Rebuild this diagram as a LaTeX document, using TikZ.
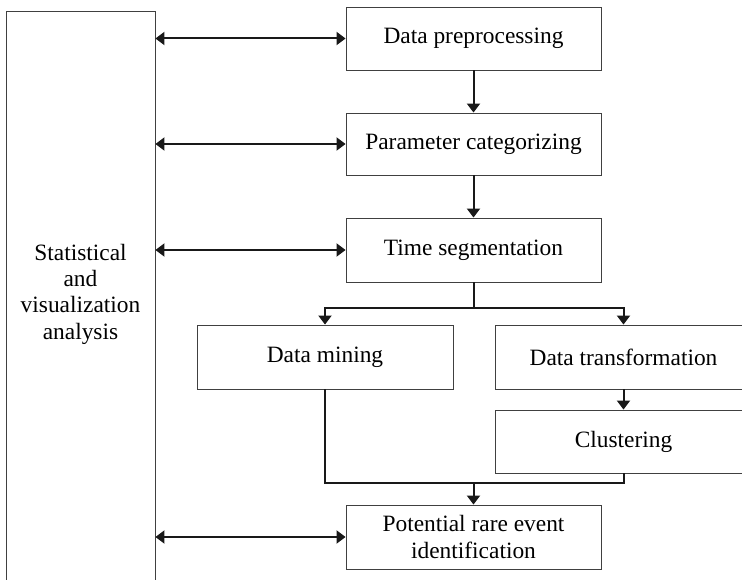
\documentclass[tikz,border=0pt]{standalone}
\usepackage{fontspec}
\setmainfont{Liberation Serif}
\usetikzlibrary{arrows.meta,calc}
\begin{document}
\begin{tikzpicture}[x=1pt,y=-1pt,
  box/.style={draw=black!75, line width=0.9pt, rectangle, inner sep=0pt, align=center,
    font=\fontsize{23.4}{26.5}\selectfont},
  lbl/.style={align=center, inner sep=0pt, font=\fontsize{23.4}{26.3}\selectfont},
  tip/.tip={Triangle[width=13pt,length=9pt]},
  conn/.style={draw=black!90, line width=2pt, -tip},
  both/.style={draw=black!90, line width=2pt, tip-tip},
  line/.style={draw=black!90, line width=2pt}]
\useasboundingbox (0,0) rectangle (742,580);
\clip (0,0) rectangle (742,580);
\node[box, minimum width=149pt, minimum height=620pt] (stat) at (80.5,321) {};
\node[lbl] (statlbl) at (80.5,294) {Statistical\\and\\visualization\\analysis};
\node[box, minimum width=255pt, minimum height=63pt] (pre) at (473.5,38.5) {Data preprocessing};
\node[box, minimum width=255pt, minimum height=62pt] (par) at (473.5,144) {Parameter categorizing};
\node[box, minimum width=255pt, minimum height=64pt] (seg) at (473.5,250) {Time segmentation};
\node[box, minimum width=256pt, minimum height=64pt] (dm) at (325,357) {Data mining};
\node[box, minimum width=257pt, minimum height=64pt] (dt) at (623.5,357) {Data transformation};
\node[box, minimum width=257pt, minimum height=63pt] (cl) at (623.5,441.5) {Clustering};
\node[box, minimum width=255pt, minimum height=64pt] (pot) at (473.5,537) {Potential rare event\\identification};
\coordinate (split) at ($(seg.south)+(0,26)$);
\coordinate (merge) at ($(pot.north)+(0,-22)$);
\draw[both] (stat.east |- pre.west) -- (pre.west);
\draw[both] (stat.east |- par.west) -- (par.west);
\draw[both] (stat.east |- seg.west) -- (seg.west);
\draw[both] (stat.east |- pot.west) -- (pot.west);
\draw[conn] (pre) -- (par);
\draw[conn] (par) -- (seg);
\draw[line] (seg.south) -- (split);
\draw[conn] (split) -| (dm.north);
\draw[conn] (split) -| (dt.north);
\draw[conn] (dt) -- (cl);
\draw[line] (dm.south) |- (merge) -| (cl.south);
\draw[conn] (merge) -- (pot.north);
\end{tikzpicture}
\end{document}
